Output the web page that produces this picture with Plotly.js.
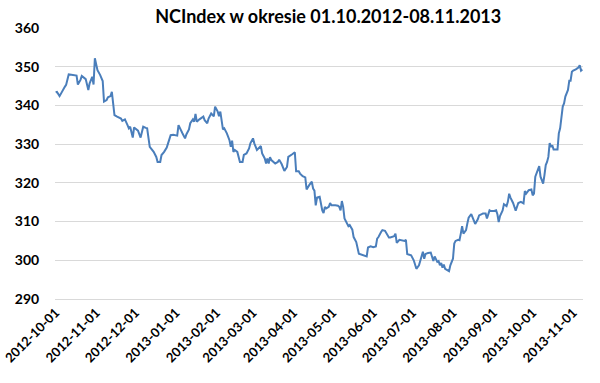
<!DOCTYPE html>
<html>
<head>
<meta charset="utf-8">
<script src="https://cdn.plot.ly/plotly-3.0.1.min.js"></script>
<style>html,body{margin:0;padding:0;background:#fff;}#chart{width:600px;height:383px;}</style>
</head>
<body>
<div id="chart"></div>
<script>
const dates = [
'2012-10-01','2012-10-02','2012-10-04','2012-10-06','2012-10-08','2012-10-09','2012-10-11','2012-10-13','2012-10-16','2012-10-17',
'2012-10-18','2012-10-20','2012-10-21','2012-10-23','2012-10-24','2012-10-26','2012-10-27','2012-10-29','2012-10-30','2012-10-31',
'2012-11-02','2012-11-04','2012-11-06','2012-11-07','2012-11-09','2012-11-10','2012-11-12','2012-11-13','2012-11-14','2012-11-15',
'2012-11-17','2012-11-20','2012-11-21','2012-11-23','2012-11-25','2012-11-26','2012-11-27','2012-11-29','2012-11-30',
'2012-12-02','2012-12-03','2012-12-05','2012-12-06','2012-12-07','2012-12-09','2012-12-10','2012-12-12','2012-12-14','2012-12-15',
'2012-12-17','2012-12-18','2012-12-20','2012-12-21','2012-12-23','2012-12-25','2012-12-26','2012-12-28','2012-12-30',
'2013-01-02','2013-01-03','2013-01-04','2013-01-06','2013-01-08','2013-01-09','2013-01-11','2013-01-12','2013-01-14','2013-01-15',
'2013-01-16','2013-01-17','2013-01-19','2013-01-20','2013-01-22','2013-01-23','2013-01-25','2013-01-26','2013-01-28','2013-01-30','2013-01-31',
'2013-02-02','2013-02-03','2013-02-04','2013-02-06','2013-02-07','2013-02-08','2013-02-09','2013-02-11','2013-02-12','2013-02-13',
'2013-02-14','2013-02-15','2013-02-17','2013-02-19','2013-02-21','2013-02-22','2013-02-24','2013-02-26','2013-02-27',
'2013-03-01','2013-03-02','2013-03-04','2013-03-06','2013-03-07','2013-03-08','2013-03-10','2013-03-11','2013-03-12','2013-03-13',
'2013-03-14','2013-03-15','2013-03-17','2013-03-18','2013-03-20','2013-03-21','2013-03-23','2013-03-25','2013-03-27','2013-03-28','2013-03-31',
'2013-04-02','2013-04-03','2013-04-05','2013-04-06','2013-04-08','2013-04-10','2013-04-11','2013-04-13','2013-04-15','2013-04-16',
'2013-04-17','2013-04-18','2013-04-19','2013-04-21','2013-04-23','2013-04-24','2013-04-25','2013-04-26','2013-04-28','2013-04-29','2013-04-30',
'2013-05-03','2013-05-05','2013-05-06','2013-05-07','2013-05-08','2013-05-09','2013-05-10','2013-05-12','2013-05-13','2013-05-14',
'2013-05-16','2013-05-17','2013-05-18','2013-05-19','2013-05-21','2013-05-22','2013-05-23','2013-05-25','2013-05-27','2013-05-28','2013-05-30',
'2013-06-01','2013-06-03','2013-06-04','2013-06-05','2013-06-07','2013-06-08','2013-06-10','2013-06-11','2013-06-13','2013-06-14',
'2013-06-16','2013-06-17','2013-06-18','2013-06-19','2013-06-21','2013-06-23','2013-06-25','2013-06-26','2013-06-27','2013-06-28','2013-06-30',
'2013-07-02','2013-07-04','2013-07-06','2013-07-07','2013-07-09','2013-07-10','2013-07-11','2013-07-13','2013-07-15','2013-07-16',
'2013-07-17','2013-07-18','2013-07-20','2013-07-21','2013-07-22','2013-07-23','2013-07-24','2013-07-25','2013-07-26','2013-07-27','2013-07-29','2013-07-30',
'2013-08-01','2013-08-02','2013-08-03','2013-08-05','2013-08-06','2013-08-07','2013-08-08','2013-08-09','2013-08-11','2013-08-12',
'2013-08-13','2013-08-15','2013-08-17','2013-08-18','2013-08-20','2013-08-21','2013-08-23','2013-08-24','2013-08-26','2013-08-27','2013-08-29','2013-08-30',
'2013-09-01','2013-09-03','2013-09-04','2013-09-05','2013-09-06','2013-09-08','2013-09-09','2013-09-11','2013-09-12','2013-09-13',
'2013-09-14','2013-09-16','2013-09-18','2013-09-19','2013-09-20','2013-09-22','2013-09-24','2013-09-25','2013-09-26','2013-09-28','2013-09-30',
'2013-10-01','2013-10-02','2013-10-03','2013-10-05','2013-10-06','2013-10-07','2013-10-09','2013-10-10','2013-10-11','2013-10-12',
'2013-10-13','2013-10-14','2013-10-15','2013-10-16','2013-10-17','2013-10-19','2013-10-20','2013-10-21','2013-10-22','2013-10-24',
'2013-10-25','2013-10-26','2013-10-28','2013-10-29','2013-10-30','2013-10-31',
'2013-11-01','2013-11-03','2013-11-04','2013-11-05','2013-11-06','2013-11-07','2013-11-08'
];
const values = [
343.4,343.5,342.4,343.8,344.8,345.3,348.0,347.9,347.7,347.7,
345.4,346.6,347.6,347.0,346.8,344.0,345.7,347.4,345.4,352.2,
349.1,347.9,346.3,341.0,341.4,342.1,342.4,343.5,341.0,337.5,
337.1,336.6,336.0,336.4,334.9,334.1,334.5,331.7,334.3,
333.8,333.5,331.7,333.2,334.5,334.2,334.1,329.3,328.6,328.0,
326.7,325.4,325.4,327.2,328.0,329.1,330.2,332.3,332.4,
332.2,334.9,334.1,332.8,331.5,332.5,333.8,335.4,336.4,335.8,
337.8,335.8,336.4,336.6,337.1,336.2,335.4,336.6,337.9,337.2,339.7,
338.4,337.2,338.4,333.8,334.1,333.6,332.8,331.0,329.3,330.9,
328.0,328.5,328.0,325.4,325.4,327.2,327.6,328.9,330.2,
331.5,330.2,328.5,329.3,329.5,327.6,326.3,325.0,326.3,325.0,
326.6,325.9,325.4,325.0,325.4,326.0,324.8,323.1,324.1,326.7,327.4,
327.9,323.0,323.0,322.4,321.7,321.4,318.3,319.4,320.3,318.5,
318.0,314.2,316.2,316.4,312.9,312.2,313.8,313.4,313.8,314.8,314.2,
314.2,314.1,313.8,312.9,315.3,313.8,310.8,309.5,308.8,309.1,
307.9,306.0,305.3,304.7,301.7,301.6,301.5,301.3,301.0,303.3,303.6,
303.4,303.6,305.6,306.0,307.3,307.8,307.6,306.9,305.9,305.9,
306.0,306.2,306.9,304.5,305.3,305.2,305.0,305.3,301.6,301.5,301.3,
300.0,297.8,298.7,299.7,302.2,300.4,301.6,301.9,302.0,300.9,
299.8,301.0,299.6,299.8,298.7,299.3,298.1,298.9,297.8,297.6,297.2,298.7,
300.4,304.3,305.0,305.3,305.2,306.9,308.8,306.9,307.8,309.5,
311.0,311.9,310.3,309.4,310.6,311.6,311.9,312.1,312.1,310.8,312.9,312.7,
312.7,312.9,311.9,309.9,311.4,312.9,314.5,314.0,315.1,317.2,
316.2,314.8,312.8,313.8,314.8,315.1,314.7,317.9,317.2,318.1,318.3,
316.8,317.2,321.6,323.3,324.3,321.6,319.8,322.0,324.6,325.4,
326.7,330.3,329.3,329.7,328.6,328.6,328.6,332.8,334.1,339.7,
340.5,342.3,344.0,346.4,346.4,348.7,
349.0,349.3,349.6,349.8,350.4,349.0,349.3
];
const tickDates = ['2012-10-01','2012-11-01','2012-12-01','2013-01-01','2013-02-01','2013-03-01','2013-04-01',
  '2013-05-01','2013-06-01','2013-07-01','2013-08-01','2013-09-01','2013-10-01','2013-11-01'];
const tickLabels = tickDates.slice();
const yTicks = [290,300,310,320,330,340,350,360];
const titleText = 'NCIndex w okresie 01.10.2012-08.11.2013';

const FONT = 'Lato, "Open Sans", sans-serif';
Plotly.newPlot('chart', [{
  x: dates, y: values, type: 'scatter', mode: 'lines',
  line: {color: '#4a7ebb', width: 2},
  hoverinfo: 'x+y'
}], {
  width: 600, height: 383,
  paper_bgcolor: '#fff', plot_bgcolor: '#fff',
  margin: {l: 55, r: 17, t: 28, b: 84, pad: 0},
  showlegend: false,
  title: {text: titleText, font: {family: FONT, size: 18, color: '#000', weight: 'bold'},
          x: 0.547, xref: 'container', xanchor: 'center', y: 0.956, yref: 'container', yanchor: 'middle'},
  xaxis: {type: 'date', range: ['2012-09-30 12:00', '2013-11-08 12:00'],
          tickmode: 'array', tickvals: tickDates, ticktext: tickLabels, tickangle: -45,
          tickfont: {family: FONT, size: 13, color: '#000', weight: 'bold'},
          showgrid: false, zeroline: false, showline: true, linecolor: '#d9d9d9', linewidth: 1, ticks: ''},
  yaxis: {range: [290, 360], tickmode: 'array', tickvals: yTicks,
          tickfont: {family: FONT, size: 14, color: '#000', weight: 'bold'},
          showgrid: true, gridcolor: '#d9d9d9', gridwidth: 1, zeroline: false, showline: false,
          ticks: 'outside', ticklen: 12, tickcolor: 'rgba(0,0,0,0)'}
}, {displayModeBar: false, staticPlot: true});
</script>
</body>
</html>
